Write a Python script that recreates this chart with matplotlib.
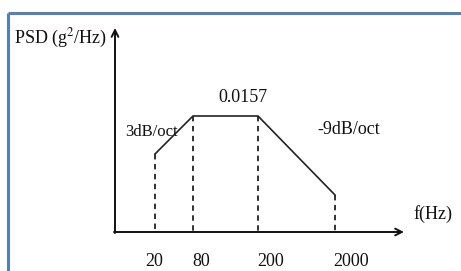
import matplotlib
matplotlib.use("Agg")
import matplotlib.pyplot as plt

# Breakpoint frequencies (tick labels) and schematic PSD levels
freq_labels = ["20", "80", "200", "2000"]
# schematic horizontal positions of breakpoints (diagram units)
freq_pos = [155, 193, 258, 335]
# label positions under the axis (diagram units)
label_pos = [154, 201, 271, 351]
# schematic PSD heights at breakpoints (diagram units, above baseline)
psd_levels = [78, 116, 116, 37]
plateau_label = "0.0157"
slope_labels = ["3dB/oct", "-9dB/oct"]

W, H = 461, 271
fig = plt.figure(figsize=(W / 100, H / 100), dpi=100)
ax = fig.add_axes([0, 0, 1, 1])
ax.set_xlim(0, W)
ax.set_ylim(H, 0)
ax.axis("off")

font = dict(family="Liberation Serif", color="#111111")
base_y = 232
origin_x = 115

# blue frame (top and left)
ax.plot([8, W], [13, 13], color="#4F81BD", lw=2.2, solid_capstyle="butt")
ax.plot([8, 8], [13, H], color="#4F81BD", lw=2.2, solid_capstyle="butt")

# axes with arrows
ax.annotate("", xy=(origin_x, 28), xytext=(origin_x, base_y + 1),
            arrowprops=dict(arrowstyle="->", lw=1.4, color="#111111",
                            mutation_scale=12, shrinkA=0, shrinkB=0))
ax.annotate("", xy=(404, base_y), xytext=(origin_x - 1, base_y),
            arrowprops=dict(arrowstyle="->", lw=1.4, color="#111111",
                            mutation_scale=12, shrinkA=0, shrinkB=0))

# PSD profile
ys = [base_y - v for v in psd_levels]
ax.plot(freq_pos, ys, color="#222222", lw=1.2)

# dashed drop lines
for x, y in zip(freq_pos, ys):
    ax.plot([x, x], [y, base_y], color="#222222", lw=1.3, ls=(0, (3, 2.5)))

# tick labels
for x, lab in zip(label_pos, freq_labels):
    ax.text(x, 261, lab, ha="center", va="center", fontsize=13, **font)

ax.text(61, 38, r"PSD (g$^2$/Hz)", ha="center", va="center", fontsize=13,
        math_fontfamily="stix", **font)
ax.text(433, 214, "f(Hz)", ha="center", va="center", fontsize=13, **font)
ax.text(243, 97, plateau_label, ha="center", va="center", fontsize=13, **font)
ax.text(151, 132, slope_labels[0], ha="center", va="center", fontsize=12, **font)
ax.text(349, 130, slope_labels[1], ha="center", va="center", fontsize=13, **font)

fig.savefig("out.png", dpi=100)
